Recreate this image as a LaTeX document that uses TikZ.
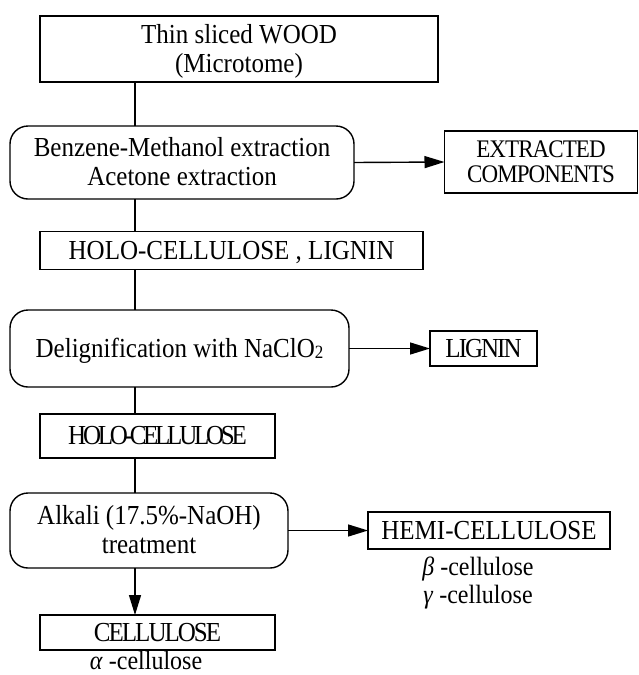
\documentclass[tikz,border=0pt]{standalone}
\usepackage{fontspec}
\usepackage{graphicx}
\setmainfont{Liberation Serif}
\usetikzlibrary{arrows.meta}
\newcommand{\tightcaps}[2]{{\addfontfeature{LetterSpace=#1}#2}}
\newcommand{\tall}[1]{\raisebox{-3pt}[\height][\depth]{\scalebox{1}[1.1]{\begin{tabular}{@{}c@{}}#1\end{tabular}}}}
\begin{document}
\begin{tikzpicture}[x=1pt,y=-1pt,
  every node/.style={inner sep=0pt,outer sep=0pt,align=center,
    font=\fontsize{25}{26}\selectfont},
  sqbox/.style={draw,line width=1.4pt,minimum width=#1},
  rbox/.style={draw,line width=1.4pt,rounded corners=18pt,minimum width=#1},
  link/.style={line width=1.4pt},
  arr/.style={line width=1.4pt,-{Triangle[length=20pt,width=12pt]}},
  note/.style={font=\fontsize{24}{24}\selectfont}]
\path[use as bounding box] (0,0) rectangle (639,675);
\coordinate (spine) at (135,0);

\node[sqbox=398pt,minimum height=66pt] (b1) at (239,49)
  {\tall{Thin sliced WOOD\\(Microtome)}};
\node[rbox=344pt,minimum height=73pt] (b2) at (182,162.5)
  {\tall{Benzene-Methanol extraction\\Acetone extraction}};
\node[sqbox=193pt,minimum height=62pt,font=\fontsize{23}{23}\selectfont] (ext) at (541,162)
  {\tall{\tightcaps{-4}{EXTRACTED}\\\tightcaps{-4}{COMPONENTS}}};
\node[sqbox=383pt,minimum height=38pt] (b3) at (231.5,250.5)
  {\tall{HOLO-CELLULOSE , LIGNIN}};
\node[rbox=339pt,minimum height=77pt] (b4) at (179.5,348.5)
  {\tall{Delignification with NaClO\raisebox{-1pt}{\fontsize{17}{17}\selectfont 2}}};
\node[sqbox=107pt,minimum height=35pt] (lig) at (483.5,348.5)
  {\tall{\tightcaps{-8}{LIGNIN}}};
\node[sqbox=235pt,minimum height=44pt] (b5) at (157.5,436)
  {\tall{\tightcaps{-13}{HOLO-CELLULOSE}}};
\node[rbox=278pt,minimum height=75pt] (b6) at (149,530.5)
  {\tall{Alkali (17.5\%-NaOH)\\treatment}};
\node[sqbox=242pt,minimum height=37pt] (hemi) at (489,530.5)
  {\tall{HEMI-CELLULOSE}};
\node[note] (beta) at (478,567) {\tall{\textit{β} -cellulose}};
\node[note] (gamma) at (478,595) {\tall{\textit{γ} -cellulose}};
\node[sqbox=235pt,minimum height=35pt] (cell) at (157.5,632.5)
  {\tall{\tightcaps{-8}{CELLULOSE}}};
\node[note] (alpha) at (146,661) {\tall{\textit{α} -cellulose}};

\draw[link] (b1.south -| spine) -- (b2.north -| spine);
\draw[link] (b2.south -| spine) -- (b3.north -| spine);
\draw[link] (b3.south -| spine) -- (b4.north -| spine);
\draw[link] (b4.south -| spine) -- (b5.north -| spine);
\draw[link] (b5.south -| spine) -- (b6.north -| spine);
\draw[arr] (b6.south -| spine) -- (cell.north -| spine);
\draw[arr] (b2.east) -- (ext.west);
\draw[arr] (b4.east) -- (lig.west);
\draw[arr] (b6.east) -- (hemi.west);
\end{tikzpicture}
\end{document}
